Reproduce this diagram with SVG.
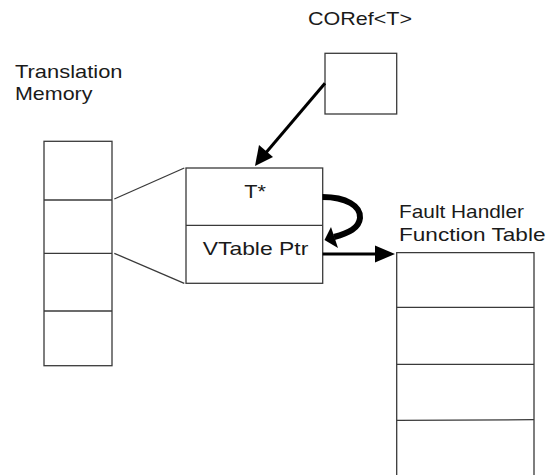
<svg xmlns="http://www.w3.org/2000/svg" width="547" height="475" viewBox="0 0 547 475">
  <style>
    .box { fill: #ffffff; stroke: #3a3a3a; stroke-width: 1.3; }
    .div { stroke: #3a3a3a; stroke-width: 1.3; fill: none; }
    .lbl { font-family: "Liberation Sans", Arial, sans-serif; font-size: 19px; fill: #1a1a1a; }
    .conn { stroke: #000; stroke-width: 3; fill: none; }
    .head { fill: #000; }
  </style>
  <rect width="547" height="475" fill="#ffffff"/>

  <!-- titles -->
  <g id="label-coref">
    <text class="lbl" x="308" y="25" textLength="104" lengthAdjust="spacingAndGlyphs">CORef&lt;T&gt;</text>
  </g>
  <g id="label-translation">
    <text class="lbl" x="15" y="77.7" textLength="107.5" lengthAdjust="spacingAndGlyphs">Translation</text>
    <text class="lbl" x="15" y="99.5" textLength="77.5" lengthAdjust="spacingAndGlyphs">Memory</text>
  </g>
  <g id="label-fault">
    <text class="lbl" x="399" y="217.7" textLength="125" lengthAdjust="spacingAndGlyphs">Fault Handler</text>
    <text class="lbl" x="399" y="240.5" textLength="146.5" lengthAdjust="spacingAndGlyphs">Function Table</text>
  </g>

  <!-- CORef<T> box -->
  <g id="coref">
    <rect class="box" x="325" y="53.3" width="71.7" height="60.7"/>
  </g>

  <!-- translation memory column -->
  <g id="translation-memory">
    <rect class="box" x="44" y="141.3" width="68" height="224.4"/>
    <line class="div" x1="44" y1="200" x2="112" y2="200"/>
    <line class="div" x1="44" y1="253.3" x2="112" y2="253.3"/>
    <line class="div" x1="44" y1="311" x2="112" y2="311"/>
  </g>

  <!-- expanded entry -->
  <g id="entry">
    <rect class="box" x="186" y="168" width="136.7" height="115.3"/>
    <line class="div" x1="186" y1="225.3" x2="322.7" y2="225.3"/>
    <text class="lbl" x="244.3" y="198.3" textLength="21.7" lengthAdjust="spacingAndGlyphs">T*</text>
    <text class="lbl" x="202.7" y="255" textLength="105.6" lengthAdjust="spacingAndGlyphs">VTable Ptr</text>
  </g>

  <!-- fault handler function table -->
  <g id="fault-table">
    <path class="div" d="M396.7,477 V252.7 H534 V477"/>
    <line class="div" x1="396.7" y1="307.3" x2="534" y2="307.3"/>
    <line class="div" x1="396.7" y1="364.3" x2="534" y2="364.3"/>
    <line class="div" x1="396.7" y1="420.3" x2="534" y2="419.7"/>
  </g>

  <!-- connectors -->
  <g id="connectors">
    <!-- zoom lines from memory slot to entry -->
    <line class="div" x1="114.3" y1="199" x2="184.3" y2="168"/>
    <line class="div" x1="114.3" y1="253.3" x2="184.3" y2="283.3"/>

    <!-- CORef to T* -->
    <line class="conn" x1="325" y1="83.3" x2="264" y2="155"/>
    <polygon class="head" points="255,166 259,145 273,157"/>

    <!-- self reference loop -->
    <path d="M322.5,197 C346,197 361,206 360,218 C359,228 349,233 334,237" stroke="#000" stroke-width="6" fill="none"/>
    <polygon class="head" points="324.5,240 331,227 338,248"/>

    <!-- VTable Ptr to table -->
    <line class="conn" x1="322.7" y1="254" x2="378" y2="254"/>
    <polygon class="head" points="395,254 375,245.5 375,262.5"/>
  </g>
</svg>
